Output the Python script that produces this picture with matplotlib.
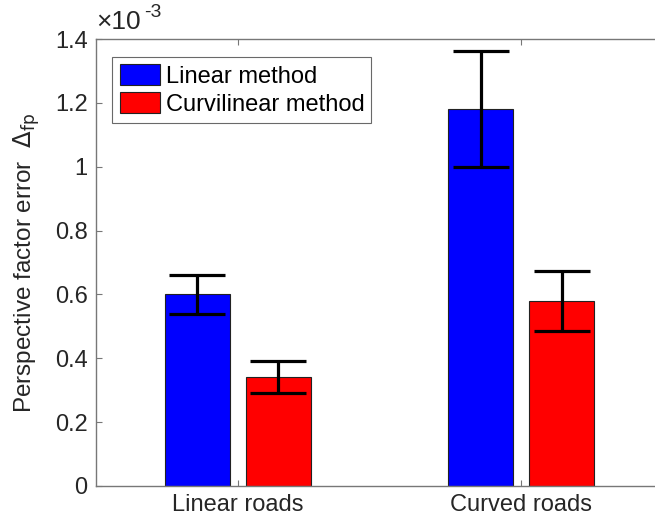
import matplotlib.pyplot as plt
import numpy as np

plt.rcParams['font.family'] = ['Liberation Sans', 'DejaVu Sans']

# data (units of 1e-3)
categories = ['Linear roads', 'Curved roads']
linear_vals = [0.60, 1.18]
linear_err = [0.06, 0.182]
curvi_vals = [0.34, 0.58]
curvi_err = [0.05, 0.094]
yticks = [0, 0.2, 0.4, 0.6, 0.8, 1, 1.2, 1.4]
ytick_labels = ['0', '0.2', '0.4', '0.6', '0.8', '1', '1.2', '1.4']

fig = plt.figure(figsize=(6.55, 5.22), dpi=100)
ax = fig.add_axes([96/655, 36/522, 567/655, 447/522])

x = np.arange(1, len(categories) + 1)
w = 0.228
off = 0.143
axc = '#777777'
txt = '#262626'

ax.bar(x - off, linear_vals, w, color='#0000ff', edgecolor='#222222', linewidth=0.8,
       label='Linear method', zorder=2)
ax.bar(x + off, curvi_vals, w, color='#ff0000', edgecolor='#222222', linewidth=0.8,
       label='Curvilinear method', zorder=2)
ax.errorbar(x - off, linear_vals, yerr=linear_err, fmt='none', ecolor='black',
            elinewidth=2.3, capsize=20, capthick=2.3, zorder=3)
ax.errorbar(x + off, curvi_vals, yerr=curvi_err, fmt='none', ecolor='black',
            elinewidth=2.3, capsize=20, capthick=2.3, zorder=3)

ax.set_xlim(0.5, 2.5)
ax.set_ylim(0, 1.4)
ax.set_xticks(x)
ax.set_xticklabels(categories)
ax.set_yticks(yticks)
ax.set_yticklabels(ytick_labels)
ax.tick_params(direction='in', length=4, width=0.8, color=axc, labelcolor=txt,
               labelsize=17, top=True, right=True, pad=6)
for s in ax.spines.values():
    s.set_color(axc)
    s.set_linewidth(1.0)

ax.set_ylabel('Perspective factor error  $\\Delta_{\\rm fp}$', fontsize=17.5, color=txt, labelpad=9)

# exponent label
ax.text(0.0, 1.012, '\u00d710', transform=ax.transAxes, fontsize=19,
        color=txt, ha='left', va='bottom')
ax.text(0.084, 1.04, '-3', transform=ax.transAxes, fontsize=14,
        color=txt, ha='left', va='bottom')

leg = ax.legend(loc='upper left', bbox_to_anchor=(0.029, 0.96), fontsize=17, frameon=True,
                fancybox=False, edgecolor='#444444', handlelength=1.7, handleheight=1.0,
                handletextpad=0.25, borderpad=0.3, labelspacing=0.2, borderaxespad=0)
leg.get_frame().set_linewidth(0.8)
for t in leg.get_texts():
    t.set_color('black')

fig.savefig('out.png', dpi=100)
